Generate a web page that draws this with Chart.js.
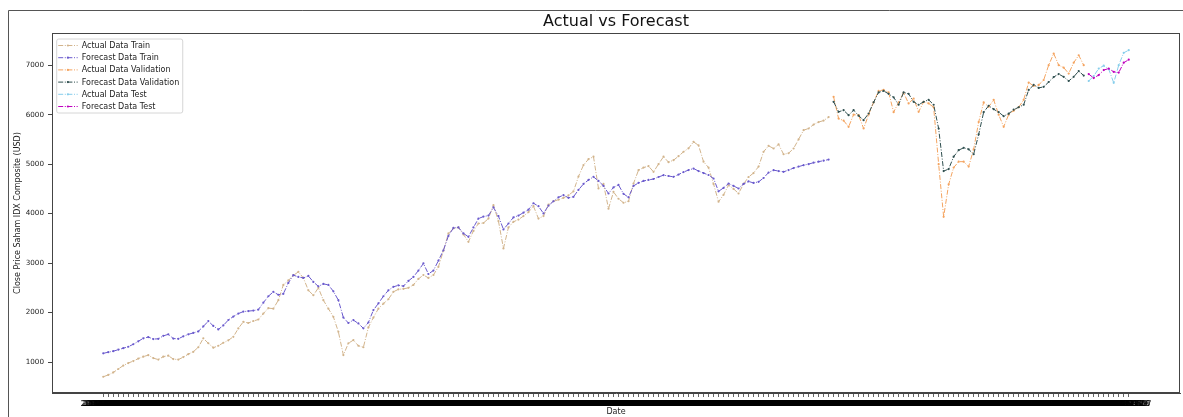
<!DOCTYPE html>
<html><head><meta charset="utf-8">
<script src="https://cdn.jsdelivr.net/npm/chart.js@4/dist/chart.umd.min.js"></script>
<style>html,body{margin:0;padding:0;background:#fff;overflow:hidden}</style>
</head><body>
<canvas id="c" width="1183" height="417"></canvas>
<script>
// ---- data ----
const trainActual = [
703,740,790,860,930,980,1020,1070,1110,1140,
1080,1050,1110,1130,1060,1050,1100,1160,1208,1300,
1480,1380,1290,1330,1390,1440,1511,1680,1814,1790,
1830,1860,1980,2090,2080,2250,2560,2650,2750,2824,
2700,2450,2350,2500,2250,2080,1915,1612,1141,1380,
1444,1330,1300,1700,1900,2080,2180,2270,2420,2470,
2480,2500,2560,2680,2760,2700,2760,2925,3250,3600,
3700,3720,3580,3430,3650,3800,3810,3900,4171,3850,
3297,3720,3835,3880,3950,4030,4150,3900,3950,4180,
4250,4280,4320,4370,4450,4750,4980,5100,5150,4508,
4600,4100,4440,4300,4220,4250,4609,4878,4930,4960,
4844,5000,5150,5040,5080,5160,5250,5320,5450,5380,
5050,4930,4600,4240,4380,4575,4500,4407,4600,4740,
4820,4950,5250,5370,5316,5400,5200,5220,5316,5500,
5686,5720,5800,5850,5880,5950];
const trainForecast = [
1176,1200,1220,1250,1280,1310,1360,1420,1480,1505,
1465,1470,1530,1560,1475,1470,1520,1560,1590,1620,
1720,1828,1730,1660,1740,1850,1920,1980,2020,2030,
2040,2060,2200,2330,2420,2360,2380,2600,2757,2720,
2700,2740,2620,2530,2580,2560,2430,2250,1900,1790,
1848,1780,1681,1800,2050,2186,2330,2450,2521,2550,
2535,2640,2720,2850,2993,2780,2850,3050,3260,3550,
3710,3720,3600,3532,3720,3900,3940,3960,4125,3950,
3680,3800,3923,3960,4020,4080,4210,4150,4004,4160,
4250,4330,4373,4320,4340,4480,4600,4680,4743,4660,
4560,4407,4530,4580,4400,4330,4560,4620,4660,4680,
4700,4740,4777,4760,4743,4790,4840,4880,4911,4860,
4820,4780,4710,4450,4520,4609,4560,4508,4600,4650,
4620,4642,4720,4830,4878,4860,4844,4880,4920,4950,
4979,5000,5030,5050,5070,5093];
const valActual = [
6360,5920,5880,5754,6000,5990,5720,6000,6250,6480,
6500,6450,6050,6250,6440,6226,6326,6057,6259,6226,
6150,5000,3935,4590,4930,5050,5050,4950,5300,5850,
6250,6158,6300,6000,5754,6000,6080,6150,6300,6650,
6580,6600,6700,7000,7235,7000,6950,6831,7050,7200,
7000];
const valForecast = [
6259,6057,6090,5990,6090,5980,5888,6023,6250,6450,
6480,6420,6350,6200,6450,6420,6260,6200,6259,6300,
6200,5720,4860,4900,5150,5282,5330,5300,5200,5600,
6050,6180,6110,6050,5970,6020,6100,6150,6200,6500,
6600,6540,6562,6660,6760,6820,6764,6680,6764,6880,
6790];
const testActual = [6680,6780,6932,6990,6920,6643,7000,7250,7302];
const testForecast = [6820,6740,6800,6900,6932,6865,6850,7050,7110];
const seriesLabels = ['Actual Data Train','Forecast Data Train','Actual Data Validation','Forecast Data Validation','Actual Data Test','Forecast Data Test'];
const yTicks = [1000,2000,3000,4000,5000,6000,7000];
const START_DATE = Date.UTC(2004, 0, 2);
const TICK_STEP_DAYS = 9;    // one date tick every quarter data step
const TICKS_PER_POINT = 4;

// ---- derived structures ----
const OFF_VAL = trainActual.length;
const OFF_TEST = OFF_VAL + valActual.length;
const N = OFF_TEST + testActual.length;
const NT = (N - 1) * TICKS_PER_POINT + 1;
const dateLabels = Array.from({length: NT}, (_, k) => new Date(START_DATE + k * TICK_STEP_DAYS * 86400000).toISOString().slice(0, 10));
const pts = (arr, off) => arr.map((v, i) => ({x: off + i, y: v}));
const colors = ['#d2b48c', '#6a5acd', '#f4a460', '#2f4f4f', '#87ceeb', '#bf00bf'];
const DASH = [5, 1.6, 1, 1.6];
const FONT = '"DejaVu Sans", sans-serif';

function ds(idx, arr, off) {
  const c = colors[idx];
  return {label: seriesLabels[idx], data: pts(arr, off), borderColor: c, backgroundColor: c,
    borderWidth: 1, borderDash: DASH, pointRadius: 1.1, pointHoverRadius: 1.1, pointBorderWidth: 0,
    pointBackgroundColor: c, tension: 0, fill: false, order: 10 - idx};
}

const decor = {
  id: 'decor',
  afterDraw(chart) {
    const {ctx, chartArea: a} = chart;
    ctx.save();
    ctx.strokeStyle = '#444'; ctx.lineWidth = 1; ctx.setLineDash([]);
    const L = Math.round(a.left) + 0.5, T = Math.round(a.top) + 0.5, R = Math.round(a.right) - 0.5, B = Math.round(a.bottom) - 0.5;
    ctx.strokeRect(L, T, R - L, B - T);
    ctx.strokeStyle = '#555';
    ctx.beginPath(); ctx.moveTo(8.5, 417); ctx.lineTo(8.5, 10.5); ctx.lineTo(1183, 10.5); ctx.stroke();
    ctx.fillStyle = '#111'; ctx.font = '16px ' + FONT; ctx.textAlign = 'center'; ctx.textBaseline = 'middle';
    ctx.fillText('Actual vs Forecast', (a.left + a.right) / 2, 22);
    ctx.font = '8px ' + FONT;
    const maxW = Math.max(...seriesLabels.map(l => ctx.measureText(l).width));
    const x0 = a.left + 4.7, y0 = a.top + 6, w = 25 + maxW + 3.5, h = 74, r = 2;
    ctx.beginPath();
    ctx.moveTo(x0 + r, y0); ctx.lineTo(x0 + w - r, y0); ctx.quadraticCurveTo(x0 + w, y0, x0 + w, y0 + r);
    ctx.lineTo(x0 + w, y0 + h - r); ctx.quadraticCurveTo(x0 + w, y0 + h, x0 + w - r, y0 + h);
    ctx.lineTo(x0 + r, y0 + h); ctx.quadraticCurveTo(x0, y0 + h, x0, y0 + h - r);
    ctx.lineTo(x0, y0 + r); ctx.quadraticCurveTo(x0, y0, x0 + r, y0); ctx.closePath();
    ctx.fillStyle = 'rgba(255,255,255,0.8)'; ctx.fill();
    ctx.strokeStyle = '#d6d6d6'; ctx.stroke();
    ctx.textAlign = 'left';
    seriesLabels.forEach((lab, k) => {
      const yy = y0 + 6.5 + 12.2 * k;
      ctx.strokeStyle = colors[k]; ctx.lineWidth = 1; ctx.setLineDash(DASH);
      ctx.beginPath(); ctx.moveTo(x0 + 1.5, yy); ctx.lineTo(x0 + 21, yy); ctx.stroke();
      ctx.setLineDash([]);
      ctx.fillStyle = colors[k]; ctx.beginPath(); ctx.arc(x0 + 11.2, yy, 1.1, 0, Math.PI * 2); ctx.fill();
      ctx.fillStyle = '#222'; ctx.fillText(lab, x0 + 25, yy + 0.5);
    });
    ctx.restore();
  }
};

new Chart(document.getElementById('c'), {
  type: 'line',
  data: {datasets: [
    ds(0, trainActual, 0), ds(1, trainForecast, 0),
    ds(2, valActual, OFF_VAL), ds(3, valForecast, OFF_VAL),
    ds(4, testActual, OFF_TEST), ds(5, testForecast, OFF_TEST)
  ]},
  options: {
    responsive: false, animation: false, devicePixelRatio: 1, events: [],
    layout: {padding: {left: 0, right: 3, top: 33, bottom: 0}},
    plugins: {legend: {display: false}, title: {display: false}, tooltip: {enabled: false}},
    scales: {
      x: {
        type: 'linear', min: -0.05 * (N - 1), max: 1.05 * (N - 1),
        afterBuildTicks: s => { s.ticks = dateLabels.map((_, k) => ({value: k / TICKS_PER_POINT})); },
        afterFit: s => { s.height = 24; },
        grid: {drawOnChartArea: false, drawTicks: true, tickLength: 4, color: '#777',
          tickColor: c => (c.tick && Number.isInteger(c.tick.value)) ? '#666' : 'rgba(0,0,0,0)'},
        border: {display: true, color: '#444'},
        ticks: {autoSkip: false, maxRotation: 0, minRotation: 0, padding: 2, color: '#000',
          font: {family: FONT, size: 7.8}, callback: v => dateLabels[Math.round(v * TICKS_PER_POINT)]},
        title: {display: true, text: 'Date', color: '#222', font: {family: FONT, size: 8}, padding: {top: 0, bottom: 0}}
      },
      y: {
        min: 375, max: 7650,
        afterBuildTicks: s => { s.ticks = yTicks.map(v => ({value: v})); },
        afterFit: s => { s.width = 52; },
        grid: {drawOnChartArea: false, drawTicks: true, tickLength: 4, color: '#444', tickColor: '#444'},
        border: {display: true, color: '#444'},
        ticks: {padding: 4, color: '#222', font: {family: FONT, size: 7.2}, callback: v => String(v)},
        title: {display: true, text: 'Close Price Saham IDX Composite (USD)', color: '#222',
          font: {family: FONT, size: 8}, padding: {top: 13.2, bottom: 0}}
      }
    }
  },
  plugins: [decor]
});
</script>
</body></html>
